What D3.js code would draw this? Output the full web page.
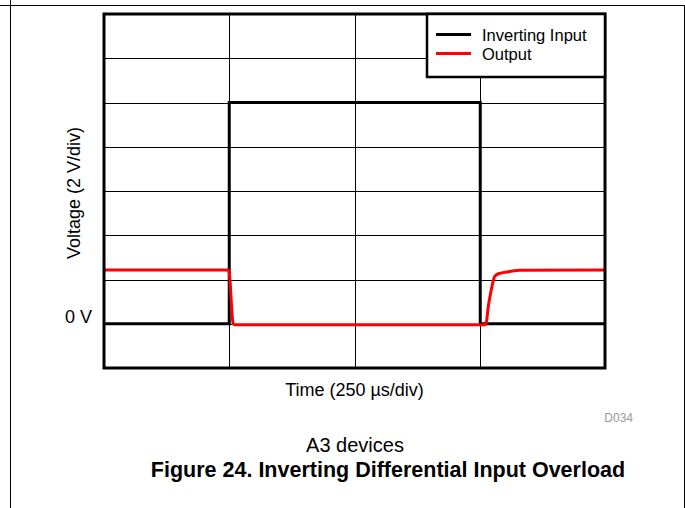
<!DOCTYPE html>
<html>
<head>
<meta charset="utf-8">
<script src="https://cdn.jsdelivr.net/npm/d3@7"></script>
<style>
  html, body { margin: 0; padding: 0; background: #fff; }
  svg { display: block; }
  text { font-family: "Liberation Sans", Arial, Helvetica, sans-serif; }
</style>
</head>
<body>
<svg id="chart" width="685" height="508"></svg>
<script>
// ---- data ----
const xTickValues = [0, 250, 500, 750, 1000];          // µs, 250 µs/div
const yTickValues = [-2, 0, 2, 4, 6, 8, 10, 12, 14];   // V, 2 V/div
const yTickLabels = { "0": "0 V" };

const inputTime = [0, 250, 250, 751, 751, 1000];
const inputVolt = [0, 0, 10, 10, 0, 0];

const outputTime = [0, 247, 250, 252, 254, 256, 258, 261, 760, 763, 767, 771, 775, 780, 790, 810, 830, 1000];
const outputVolt = [2.43, 2.43, 2.3, 1.8, 1.0, 0.3, 0.0, -0.05, -0.05, 0.05, 0.77, 1.3, 1.75, 2.15, 2.28, 2.36, 2.42, 2.43];

const seriesNames = ["Inverting Input", "Output"];
const seriesColors = ["#000000", "#ff0000"];

const xTitle = "Time (250 \u00b5s/div)";
const yTitle = "Voltage (2 V/div)";
const figId = "D034";
const subTitle = "A3 devices";
const caption = "Figure 24. Inverting Differential Input Overload";

// ---- layout ----
const W = 685, H = 508;
const plot = { left: 104, top: 14, right: 605, bottom: 368 };

const svg = d3.select("#chart");

// page frame
svg.append("line").attr("x1", 0).attr("x2", W).attr("y1", 5.5).attr("y2", 5.5)
  .attr("stroke", "#000").attr("stroke-width", 1);
svg.append("line").attr("x1", 10.5).attr("x2", 10.5).attr("y1", 0).attr("y2", H)
  .attr("stroke", "#000").attr("stroke-width", 1);
svg.append("line").attr("x1", 684.5).attr("x2", 684.5).attr("y1", 5).attr("y2", H)
  .attr("stroke", "#000").attr("stroke-width", 1);

const x = d3.scaleLinear().domain([0, 1000]).range([plot.left, plot.right]);
const y = d3.scaleLinear().domain([-2, 14]).range([plot.bottom, plot.top]);

function addText(g, tx, ty, str, anchor, size, weight, fill) {
  return g.append("text")
    .attr("x", tx).attr("y", ty)
    .attr("text-anchor", anchor)
    .attr("font-size", size)
    .attr("font-weight", weight || "normal")
    .attr("fill", fill || "#000")
    .text(str);
}

// grid via axes
const gridX = svg.append("g")
  .attr("transform", `translate(0,${plot.bottom})`)
  .call(d3.axisBottom(x).tickValues(xTickValues.slice(1, -1)).tickSize(-(plot.bottom - plot.top)).tickFormat(""));
const gridY = svg.append("g")
  .attr("transform", `translate(${plot.left},0)`)
  .call(d3.axisLeft(y).tickValues(yTickValues.slice(1, -1)).tickSize(-(plot.right - plot.left)).tickFormat(""));
[gridX, gridY].forEach(g => {
  g.select(".domain").remove();
  g.selectAll(".tick line").attr("stroke", "#000").attr("stroke-width", 1)
    .attr("shape-rendering", "crispEdges");
});

// y tick label "0 V"
yTickValues.filter(v => yTickLabels[String(v)]).forEach(v => {
  addText(svg, plot.left - 12, y(v) - 1, yTickLabels[String(v)], "end", 18);
});

// lines
const lineGen = d3.line().x(d => x(d[0])).y(d => y(d[1]));
const inputData = inputTime.map((t, i) => [t, inputVolt[i]]);
const outputData = outputTime.map((t, i) => [t, outputVolt[i]]);

svg.append("path").datum(inputData)
  .attr("d", lineGen)
  .attr("fill", "none").attr("stroke", seriesColors[0]).attr("stroke-width", 3)
  .attr("stroke-linejoin", "miter");
svg.append("path").datum(outputData)
  .attr("d", lineGen.curve(d3.curveMonotoneX))
  .attr("fill", "none").attr("stroke", seriesColors[1]).attr("stroke-width", 3)
  .attr("stroke-linejoin", "round");

// plot border
svg.append("rect")
  .attr("x", plot.left).attr("y", plot.top)
  .attr("width", plot.right - plot.left).attr("height", plot.bottom - plot.top)
  .attr("fill", "none").attr("stroke", "#000").attr("stroke-width", 3);

// legend
const lg = svg.append("g");
lg.append("rect").attr("x", 427).attr("y", 14).attr("width", 178).attr("height", 63)
  .attr("fill", "#fff").attr("stroke", "#000").attr("stroke-width", 2.5);
seriesNames.forEach((name, i) => {
  const ly = 34.5 + i * 19;
  lg.append("line").attr("x1", 436).attr("x2", 471).attr("y1", ly).attr("y2", ly)
    .attr("stroke", seriesColors[i]).attr("stroke-width", 3);
  addText(lg, 482, ly + 6, name, "start", 16.5);
});

// titles
addText(svg, 354.5, 395.5, xTitle, "middle", 18);
svg.append("text")
  .attr("transform", `translate(79.5,193) rotate(-90)`)
  .attr("text-anchor", "middle").attr("font-size", 18)
  .text(yTitle);
addText(svg, 633, 422, figId, "end", 12, "normal", "#999");
addText(svg, 355, 452, subTitle, "middle", 20);
addText(svg, 388, 477, caption, "middle", 21.5, "bold");
</script>
</body>
</html>
